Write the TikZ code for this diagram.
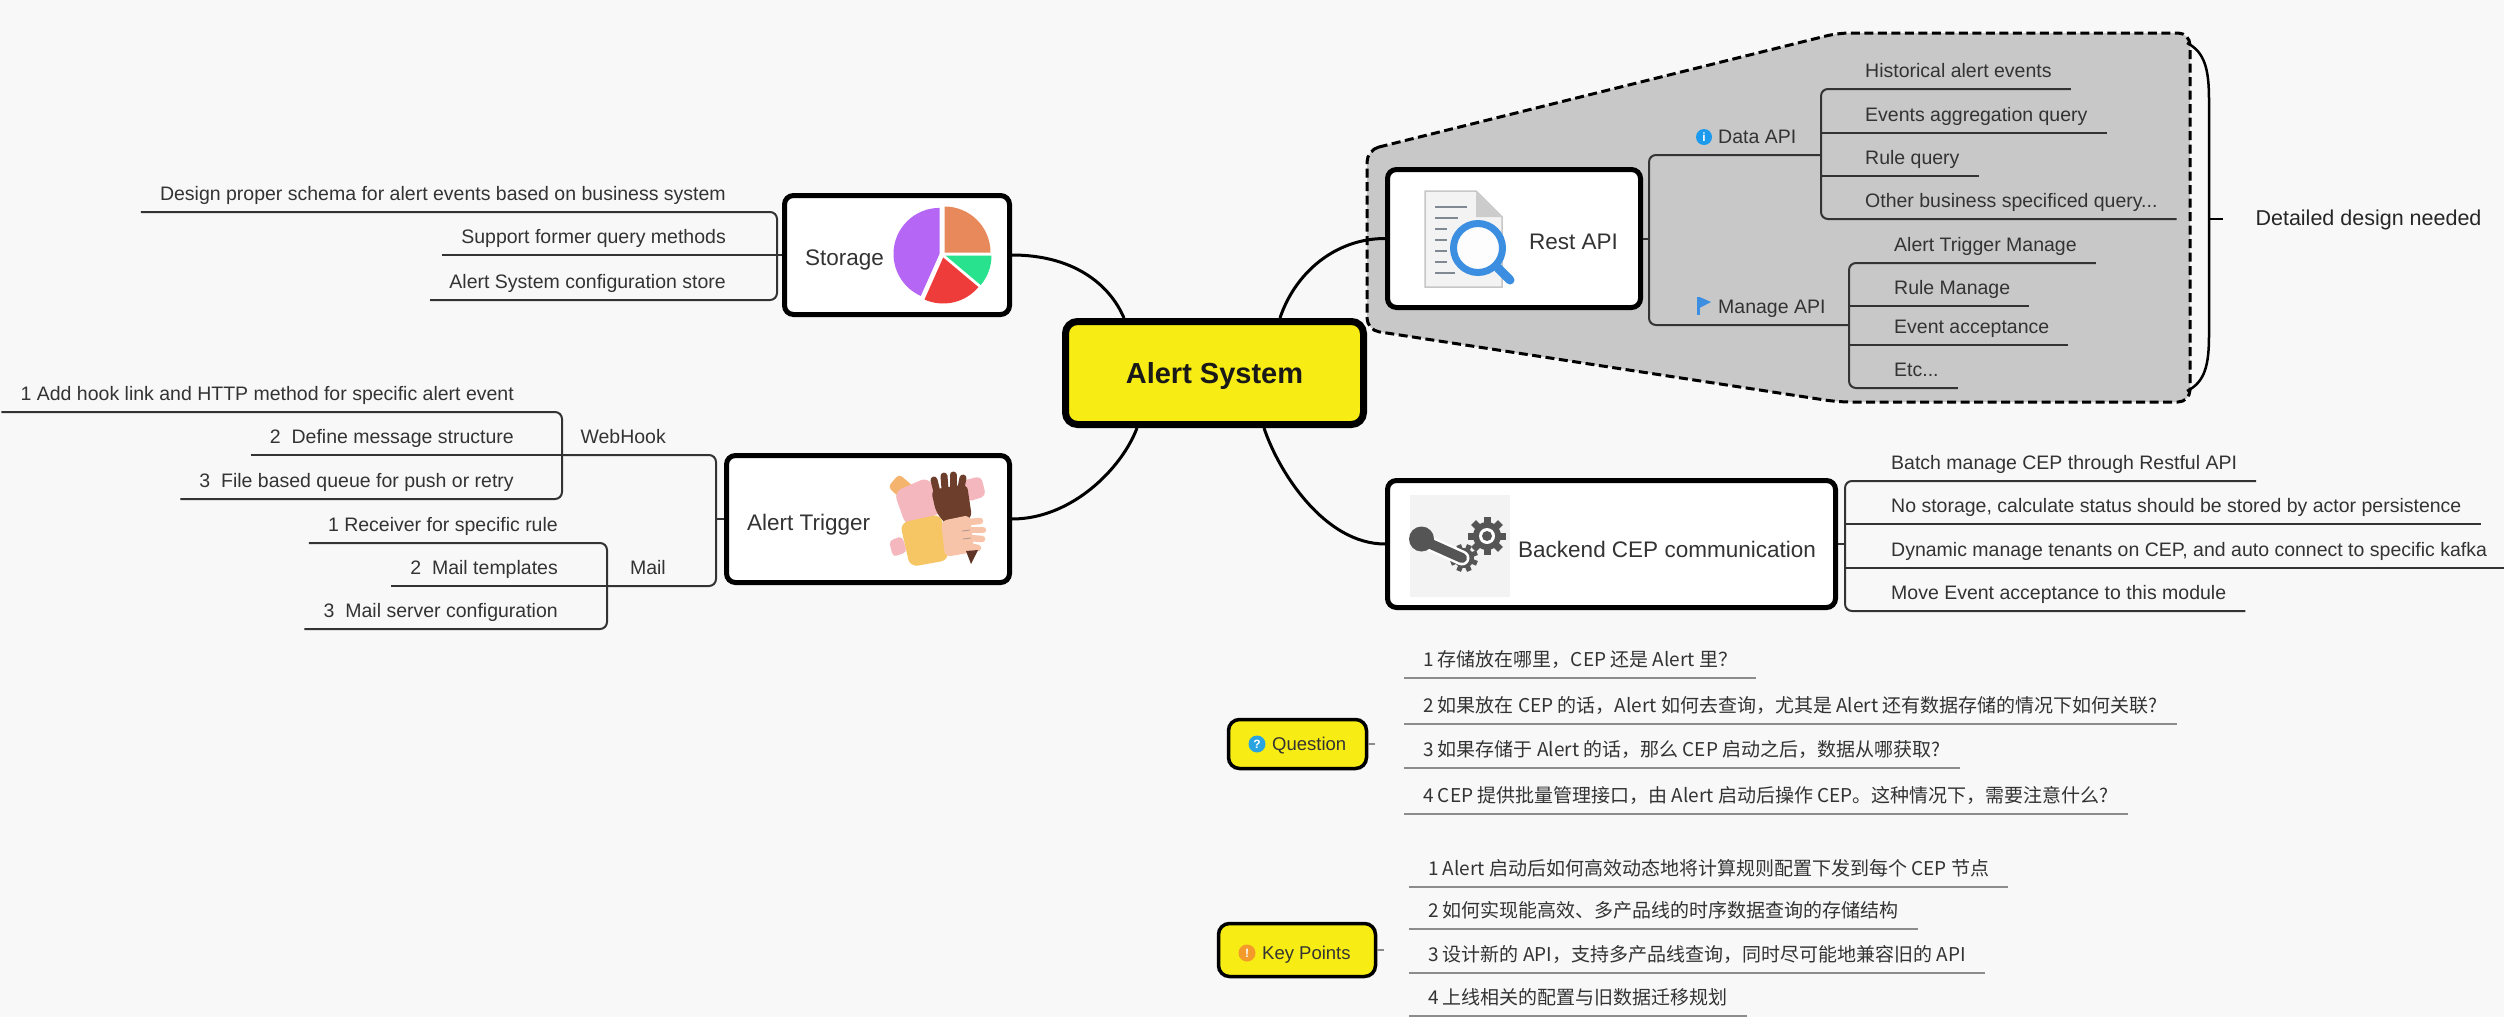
\documentclass[tikz,border=0pt]{standalone}
\usepackage{fontspec}
\setmainfont{Liberation Sans}
\newfontfamily\cjk{Noto Sans CJK SC}
\usetikzlibrary{calc}

\definecolor{bg}{RGB}{248,248,248}
\definecolor{ink}{RGB}{51,51,51}
\definecolor{hub}{RGB}{247,236,20}
\definecolor{zone}{RGB}{200,200,200}
\definecolor{qline}{RGB}{140,140,140}
\definecolor{pieorange}{RGB}{232,137,91}
\definecolor{piegreen}{RGB}{40,226,142}
\definecolor{piered}{RGB}{238,60,58}
\definecolor{piepurple}{RGB}{182,102,245}
\definecolor{handpink}{RGB}{244,183,190}
\definecolor{handbrown}{RGB}{110,62,45}
\definecolor{handyellow}{RGB}{247,198,100}
\definecolor{handpeach}{RGB}{247,196,170}
\definecolor{handorange}{RGB}{245,180,110}
\definecolor{geargray}{RGB}{85,85,85}
\definecolor{iconbg}{RGB}{243,243,243}
\definecolor{docline}{RGB}{128,136,145}
\definecolor{lensblue}{RGB}{60,143,224}
\definecolor{infoblue}{RGB}{27,154,238}
\definecolor{qblue}{RGB}{42,164,224}
\definecolor{korange}{RGB}{243,154,43}

\tikzset{
  hubbox/.style={draw=black, line width=7pt, rounded corners=12pt, fill=hub,
    font=\bfseries\fontsize{29}{34}\selectfont, text=black!90, text height=21pt, text depth=0pt},
  topic/.style={draw=black, line width=5pt, rounded corners=9pt, fill=white, inner sep=0pt},
  tagbox/.style={draw=black, line width=3.5pt, rounded corners=11pt, fill=hub, inner sep=0pt},
  title/.style={font=\fontsize{22.5}{27}\selectfont, text=ink, inner sep=0pt},
  tagtitle/.style={font=\fontsize{18.5}{22}\selectfont, text=ink, inner sep=0pt},
  leaf/.style={font=\fontsize{19.5}{23}\selectfont, text=ink, inner xsep=19pt, inner ysep=0pt,
    text height=15pt, text depth=11.5pt},
  cjkleaf/.style={leaf, font=\cjk\fontsize{19}{23}\selectfont},
  branch/.style={draw=ink, line width=2pt, rounded corners=7pt},
  qbranch/.style={draw=qline, line width=2pt},
  curve/.style={draw=black, line width=3pt},
  badge/.style={circle, inner sep=0pt, minimum size=17pt, text=white,
    font=\bfseries\fontsize{12}{12}\selectfont},
  finger/.style={line width=7pt, line cap=round}
}

\begin{document}
\begin{tikzpicture}[x=1pt,y=-1pt]
\useasboundingbox (0,0) rectangle (2504,1017);
\fill[bg] (0,0) rectangle (2504,1017);

% grey summary zone around the Rest API branch
\path[fill=zone, draw=black, line width=3pt, dash pattern=on 9pt off 4.5pt, rounded corners=12pt]
  (1367,150) -- (1838,33) -- (2190,33) -- (2190,402) -- (1838,402) -- (1367,330) -- cycle;

% summary brace
\draw[line width=2.5pt] (2187,43) .. controls (2205,52) and (2209,70) .. (2209,100)
  -- (2209,335) .. controls (2209,365) and (2205,382) .. (2187,391);
\draw[line width=2.5pt] (2209,219) -- (2223,219);
\node[anchor=west, font=\fontsize{21.5}{26}\selectfont, text=black!85] (summary) at (2252,220) {Detailed design needed};

% main topics
\node[hubbox, minimum width=298pt, minimum height=103pt] (hub) at (1214.5,373) {Alert System};
\node[topic, minimum width=225pt, minimum height=119pt] (storage) at (897,255) {};
\node[topic, minimum width=283pt, minimum height=127pt] (trigger) at (868,519) {};
\node[topic, minimum width=253pt, minimum height=138pt] (restapi) at (1514,238.5) {};
\node[topic, minimum width=448pt, minimum height=127pt] (backend) at (1611.5,544) {};
\node[tagbox, minimum width=138pt, minimum height=49pt] (question) at (1297.5,744) {};
\node[tagbox, minimum width=157pt, minimum height=53pt] (keypoints) at (1297,950) {};

% topic labels
\node[title, anchor=base west] (storage-l) at (805,265) {Storage};
\node[title, anchor=base west] (trigger-l) at (747,530) {Alert Trigger};
\node[title, anchor=base west] (restapi-l) at (1529,249) {Rest API};
\node[title, anchor=base west] (backend-l) at (1518,557) {Backend CEP communication};
\node[tagtitle, anchor=base west] (question-l) at (1272,750.5) {Question};
\node[tagtitle, anchor=base west] (keypoints-l) at (1262,959.5) {Key Points};
\node[badge, fill=qblue] (qicon) at (1257,744) {?};
\node[badge, fill=korange] (kicon) at (1247,953) {!};

% pie chart icon
\begin{scope}[shift={(942.5,254.5)}]
  \fill[pieorange] (2,-2) -- ++(0:46) arc[start angle=0, end angle=-90, radius=46] -- cycle;
  \fill[piegreen] (3,1) -- ++(40:46) arc[start angle=40, end angle=0, radius=46] -- cycle;
  \fill[piered] (0.7,3) -- ++(114:46) arc[start angle=114, end angle=40, radius=46] -- cycle;
  \fill[piepurple] (-3,-0.6) -- ++(-90:46) arc[start angle=-90, end angle=-246, radius=46] -- cycle;
\end{scope}

% hands icon: four arms joined in a ring
\fill[handorange, rounded corners=4pt] (888,487) -- (899,474) -- (914,487) -- (902,500) -- cycle;
\fill[handpink, rounded corners=8pt] (894,492) -- (928,477) -- (946,511) -- (906,526) -- cycle;
\fill[handpink, rounded corners=5pt] (962,481) -- (981,476) -- (986,496) -- (967,502) -- cycle;
\fill[handyellow, rounded corners=8pt] (900,523) -- (941,514) -- (949,560) -- (910,567) -- cycle;
\fill[handpink, rounded corners=4pt] (889,541) -- (902,536) -- (907,552) -- (893,557) -- cycle;
\fill[handbrown, rounded corners=6pt] (931,490) -- (967,484) -- (972,518) -- (948,527) -- (936,512) -- cycle;
\draw[handbrown, finger] (937,492) -- (934,480);
\draw[handbrown, finger] (945,489) -- (944,476);
\draw[handbrown, finger] (953,488) -- (953,475);
\draw[handbrown, finger] (961,488) -- (963,478);
\fill[handpeach, rounded corners=6pt] (941,521) -- (970,515) -- (974,552) -- (945,557) -- cycle;
\draw[handpeach, finger, line width=6.5pt] (969,522) -- (980,521);
\draw[handpeach, finger, line width=6.5pt] (970,530) -- (983,530);
\draw[handpeach, finger, line width=6.5pt] (970,538) -- (982,539);
\draw[handpeach, finger, line width=6.5pt] (969,546) -- (978,548);
\draw[handbrown!55, line width=0.8pt] (962,531) -- (970,530) (963,539) -- (971,538);
\fill[handbrown!85!black] (966,551) -- (978,550) -- (971,564) -- cycle;

% document and magnifier icon
\filldraw[fill=iconbg, draw=black!22, line width=1.5pt] (1425,191) -- (1476,191) -- (1502,217) -- (1502,287) -- (1425,287) -- cycle;
\fill[black!20] (1476,191) -- (1476,217) -- (1502,217) -- cycle;
\draw[docline, line width=2.5pt] (1435,207) -- (1467,207) (1435,218) -- (1458,218)
  (1435,229) -- (1447,229) (1435,240) -- (1447,240) (1435,251) -- (1447,251)
  (1435,262) -- (1447,262) (1435,273) -- (1455,273);
\filldraw[fill=white, fill opacity=0.85, draw=lensblue, line width=7pt] (1478,248) circle[radius=24.5];
\draw[lensblue, line width=9pt, line cap=round] (1498,268) -- (1510,280);

% lever and gears icon
\fill[iconbg] (1410,495) rectangle (1510,597);
\fill[geargray] (1487,536) circle[radius=14];
\foreach \a in {0,45,90,135}
  \fill[geargray, rotate around={\a:(1487,536)}] (1483.5,517) rectangle (1490.5,555);
\fill[white] (1487,536) circle[radius=8];
\fill[geargray] (1487,536) circle[radius=5];
\fill[geargray] (1464,558) circle[radius=10];
\foreach \a in {22.5,67.5,112.5,157.5}
  \fill[geargray, rotate around={\a:(1464,558)}] (1461.5,544) rectangle (1466.5,572);
\draw[white, line width=15pt, line cap=round] (1424,541) -- (1462,558);
\draw[geargray, line width=10pt, line cap=round] (1424,541) -- (1462,558);
\fill[geargray] (1421.5,539) circle[radius=12.5];

% curved connectors from the central topic
\draw[curve] ([xshift=62pt]hub.north west) .. controls +(-15,-35) and +(60,0) .. (storage.east);
\draw[curve] ([xshift=218pt]hub.north west) .. controls +(15,-45) and +(-50,0) .. (restapi.west);
\draw[curve] ([xshift=75pt]hub.south west) .. controls +(-15,40) and +(60,0) .. (trigger.east);
\draw[curve] ([xshift=202pt]hub.south west) .. controls +(15,45) and +(-60,0) .. (backend.west);

% Storage branch
\coordinate (stk) at (777,255);
\node[leaf, anchor=south east] (st1) at (745,212) {Design proper schema for alert events based on business system};
\node[leaf, anchor=south east] (st2) at (745,255) {Support former query methods};
\node[leaf, anchor=south east] (st3) at (745,300) {Alert System configuration store};
\draw[branch] (st1.south west) -- (st1.south -| stk) -- (st3.south -| stk) -- (st3.south west);
\draw[branch] (st2.south west) -- (storage.west);

% Alert Trigger branch
\coordinate (trk) at (716,519);
\coordinate (whk) at (562,455);
\coordinate (mlk) at (607,586);
\node[leaf, anchor=south east] (webhook) at (685,455) {WebHook};
\node[leaf, anchor=south east] (mail) at (685,586) {Mail};
\draw[branch] (trigger.west) -- (trk);
\draw[branch] (whk) -- (whk -| trk) -- (mlk -| trk) -- (mlk);

\node[leaf, anchor=south east] (wh1) at (533,412) {1 Add hook link and HTTP method for specific alert event};
\node[leaf, anchor=south east] (wh2) at (533,455) {2\ \ Define message structure};
\node[leaf, anchor=south east] (wh3) at (533,499) {3\ \ File based queue for push or retry};
\draw[branch] (wh1.south west) -- (wh1.south -| whk) -- (wh3.south -| whk) -- (wh3.south west);
\draw[branch] (wh2.south west) -- (whk);

\node[leaf, anchor=south east] (ml1) at (577,543) {1 Receiver for specific rule};
\node[leaf, anchor=south east] (ml2) at (577,586) {2\ \ Mail templates};
\node[leaf, anchor=south east] (ml3) at (577,629) {3\ \ Mail server configuration};
\draw[branch] (ml1.south west) -- (ml1.south -| mlk) -- (ml3.south -| mlk) -- (ml3.south west);
\draw[branch] (ml2.south west) -- (mlk);

% Rest API branch
\coordinate (rak) at (1649,238.5);
\coordinate (dak) at (1821,155);
\coordinate (mak) at (1849,325);
\node[leaf, anchor=south west] (dataapi) at (1699,155) {Data API};
\node[leaf, anchor=south west] (manageapi) at (1699,325) {Manage API};
\node[badge, fill=infoblue, minimum size=16pt] (infoicon) at (1704,137) {i};
\fill[lensblue] (1697,297) rectangle (1699.5,315);
\fill[lensblue] (1699.5,297) -- (1711,302) -- (1699.5,308) -- cycle;
\draw[branch] (restapi.east) -- (rak);
\draw[branch] (dak) -- (dak -| rak) -- (mak -| rak) -- (mak);

\node[leaf, anchor=south west] (da1) at (1846,89) {Historical alert events};
\node[leaf, anchor=south west] (da2) at (1846,133) {Events aggregation query};
\node[leaf, anchor=south west] (da3) at (1846,176) {Rule query};
\node[leaf, anchor=south west] (da4) at (1846,219) {Other business specificed query...};
\draw[branch] (da1.south east) -- (da1.south -| dak) -- (da4.south -| dak) -- (da4.south east);
\draw[branch] (da2.south -| dak) -- (da2.south east);
\draw[branch] (da3.south -| dak) -- (da3.south east);

\node[leaf, anchor=south west] (ma1) at (1875,263) {Alert Trigger Manage};
\node[leaf, anchor=south west] (ma2) at (1875,306) {Rule Manage};
\node[leaf, anchor=south west] (ma3) at (1875,345) {Event acceptance};
\node[leaf, anchor=south west] (ma4) at (1875,388) {Etc...};
\draw[branch] (ma1.south east) -- (ma1.south -| mak) -- (ma4.south -| mak) -- (ma4.south east);
\draw[branch] (ma2.south -| mak) -- (ma2.south east);
\draw[branch] (ma3.south -| mak) -- (ma3.south east);

% Backend CEP branch
\coordinate (bek) at (1845,544);
\node[leaf, anchor=south west] (be1) at (1872,481) {Batch manage CEP through Restful API};
\node[leaf, anchor=south west] (be2) at (1872,524) {No storage, calculate status should be stored by actor persistence};
\node[leaf, anchor=south west] (be3) at (1872,568) {Dynamic manage tenants on CEP, and auto connect to specific kafka};
\node[leaf, anchor=south west] (be4) at (1872,611) {Move Event acceptance to this module};
\draw[branch] (backend.east) -- (bek);
\draw[branch] (be1.south east) -- (be1.south -| bek) -- (be4.south -| bek) -- (be4.south east);
\draw[branch] (be2.south -| bek) -- (be2.south east);
\draw[branch] (be3.south -| bek) -- (be3.south east);

% Question items
\draw[qbranch] (question.east) -- ++(7,0);
\node[cjkleaf, anchor=south west] (q1) at (1404,678) {1 存储放在哪里，CEP 还是 Alert 里？};
\node[cjkleaf, anchor=south west] (q2) at (1404,724) {2 如果放在 CEP 的话，Alert 如何去查询，尤其是 Alert 还有数据存储的情况下如何关联?};
\node[cjkleaf, anchor=south west] (q3) at (1404,768) {3 如果存储于 Alert 的话，那么 CEP 启动之后，数据从哪获取?};
\node[cjkleaf, anchor=south west] (q4) at (1404,814) {4 CEP 提供批量管理接口，由 Alert 启动后操作 CEP。这种情况下，需要注意什么?};
\foreach \n in {q1,q2,q3,q4} \draw[qbranch] (\n.south west) -- (\n.south east);

% Key Points items
\draw[qbranch] (keypoints.east) -- ++(7,0);
\node[cjkleaf, anchor=south west] (k1) at (1409,887) {1 Alert 启动后如何高效动态地将计算规则配置下发到每个 CEP 节点};
\node[cjkleaf, anchor=south west] (k2) at (1409,929) {2 如何实现能高效、多产品线的时序数据查询的存储结构};
\node[cjkleaf, anchor=south west] (k3) at (1409,973) {3 设计新的 API，支持多产品线查询，同时尽可能地兼容旧的 API};
\node[cjkleaf, anchor=south west] (k4) at (1409,1016) {4 上线相关的配置与旧数据迁移规划};
\foreach \n in {k1,k2,k3,k4} \draw[qbranch] (\n.south west) -- (\n.south east);

\end{tikzpicture}
\end{document}
